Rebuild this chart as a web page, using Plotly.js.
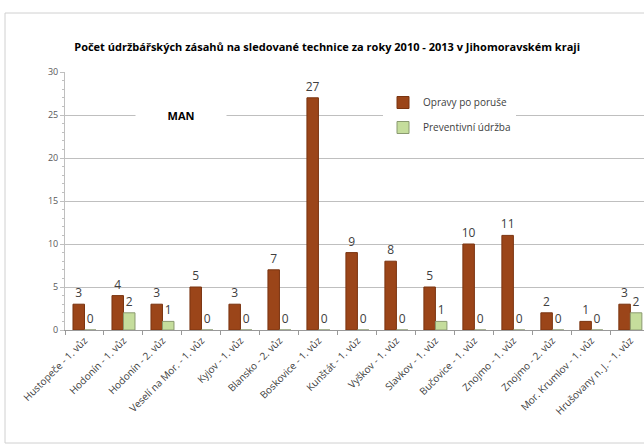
<!DOCTYPE html>
<html><head><meta charset="utf-8">
<script src="https://cdn.plot.ly/plotly-3.0.1.min.js"></script>
<style>html,body{margin:0;padding:0;background:#fff}</style>
</head><body>
<div id="chart" style="width:644px;height:444px"></div>
<script>
const categories = ["Hustopeče - 1. vůz", "Hodonín - 1. vůz", "Hodonín - 2. vůz", "Veselí na Mor. - 1. vůz", "Kyjov - 1. vůz", "Blansko - 2. vůz", "Boskovice - 1. vůz", "Kunštát - 1. vůz", "Vyškov - 1. vůz", "Slavkov - 1. vůz", "Bučovice - 1. vůz", "Znojmo - 1. vůz", "Znojmo - 2. vůz", "Mor. Krumlov - 1. vůz", "Hrušovany n. J. - 1. vůz"];
const opravy = [3, 4, 3, 5, 3, 7, 27, 9, 8, 5, 10, 11, 2, 1, 3];
const preventivni = [0, 2, 1, 0, 0, 0, 0, 0, 0, 1, 0, 0, 0, 0, 2];
const seriesNames = ["Opravy po poruše", "Preventivní údržba"];

const F = '"Open Sans", "Liberation Sans", sans-serif';
const traces = [
  {type:'bar', x:categories, y:opravy, name:seriesNames[0], legendgroup:'a',
   marker:{color:'#9B4519', line:{color:'#7A3410', width:1}},
   text:opravy.map(String), textposition:'outside', cliponaxis:false, constraintext:'none',
   textfont:{family:F, size:12, color:'#404040'}},
  {type:'bar', x:categories, y:preventivni, name:seriesNames[1], legendgroup:'b',
   marker:{color:'#C5DD9C', line:{color:'#8A9A70', width:1}},
   text:preventivni.map(String), textposition:'outside', cliponaxis:false, constraintext:'none',
   textfont:{family:F, size:12, color:'#404040'}}
];
const L = 65, PW = 579, PH = 258;
const layout = {
  width:644, height:444,
  margin:{l:L, r:0, t:72, b:114, pad:0},
  paper_bgcolor:'#fff', plot_bgcolor:'#fff',
  font:{family:F, color:'#404040', size:10},
  title:{text:'<b>Počet údržbářských zásahů na sledované technice za roky 2010 - 2013 v Jihomoravském kraji</b>',
    font:{family:F, size:11, color:'#000'}, x:0.508, xanchor:'center', y:1-47/444, yanchor:'middle'},
  bargap:0.41, bargroupgap:0,
  xaxis:{type:'category', range:[-0.5, 14.35], tickangle:-45, tickson:'boundaries',
    ticks:'outside', ticklen:4, tickcolor:'#999', showline:true, linecolor:'#999',
    showgrid:false, tickfont:{family:F, size:10, color:'#404040'}, fixedrange:true},
  yaxis:{range:[0,30], dtick:5, showgrid:true, gridcolor:'#BFBFBF', gridwidth:1,
    showline:true, linecolor:'#BFBFBF', ticks:'outside', ticklen:4, tickcolor:'#BFBFBF',
    minor:{dtick:1, ticks:'outside', ticklen:2, tickcolor:'#BFBFBF', showgrid:false},
    zeroline:false, tickfont:{family:F, size:9, color:'#595959'}, fixedrange:true},
  legend:{x:(383-L)/PW, xanchor:'left', y:(330-88)/PH, yanchor:'top',
    bgcolor:'#fff', font:{family:F, size:10, color:'#404040'},
    traceorder:'grouped', tracegroupgap:6, itemwidth:30},
  showlegend:true,
  annotations:[{text:'<b>MAN</b>', x:(135-L)/PW, xref:'paper', y:25, yref:'y',
    showarrow:false, bgcolor:'#fff', width:88, height:16,
    font:{family:F, size:11, color:'#000'}}],
  shapes:[{type:'rect', xref:'paper', yref:'paper', x0:(5-L)/PW, x1:1.2, y0:(330-443)/PH, y1:(330-13)/PH,
    line:{color:'#D0D0D0', width:1}, fillcolor:'rgba(0,0,0,0)', layer:'below'}]
};
Plotly.newPlot('chart', traces, layout, {displayModeBar:false, staticPlot:true});
</script>
</body></html>
